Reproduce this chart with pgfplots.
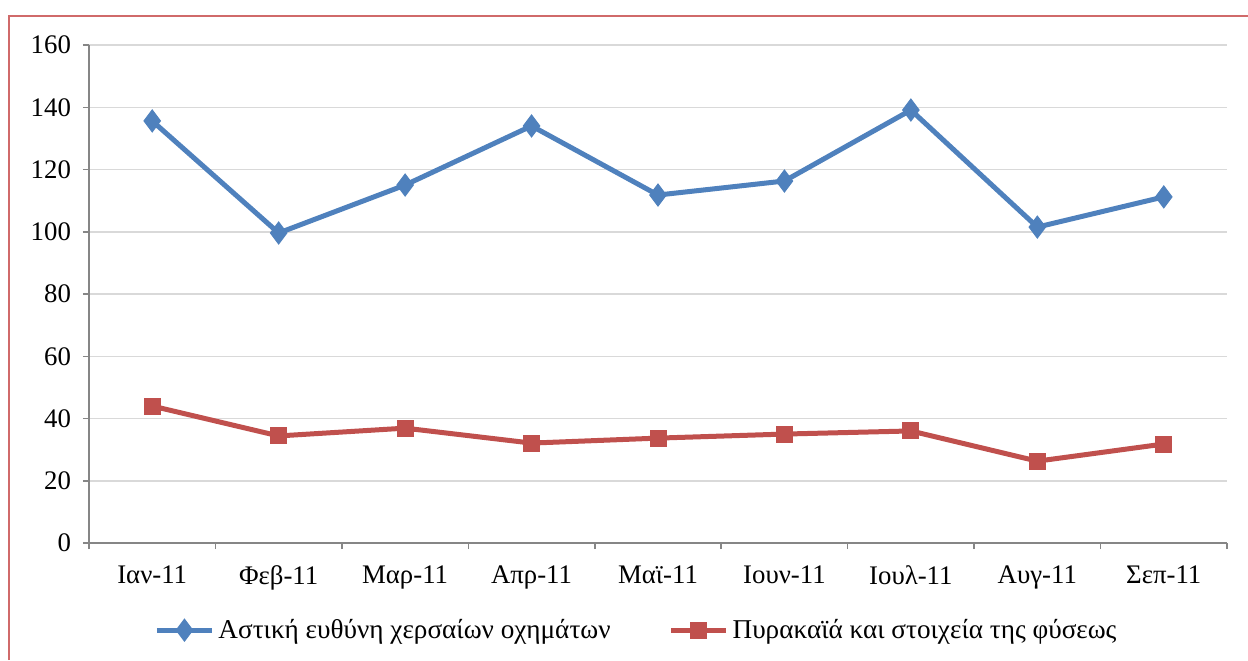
\documentclass[border=0pt]{standalone}
\usepackage{fontspec}
\setmainfont{Liberation Serif}
\usepackage{pgfplots}
\pgfplotsset{compat=1.18}
\definecolor{sblue}{HTML}{4F81BD}
\definecolor{sred}{HTML}{C0504D}
\definecolor{framecol}{HTML}{D06A6A}
\definecolor{gridcol}{HTML}{D9D9D9}
\definecolor{axcol}{HTML}{868686}
\begin{document}
\begin{tikzpicture}
\useasboundingbox (0,0) rectangle (624pt,330pt);
\draw[color=framecol, line width=0.7pt] (4.5pt,0) -- (4.5pt,322pt) -- (624pt,322pt);
\begin{axis}[
  at={(44.5pt,58.5pt)}, anchor=south west,
  scale only axis, width=569pt, height=249pt,
  xmin=-0.5, xmax=8.5, ymin=0, ymax=160,
  ytick={0,20,...,160},
  axis x line*=bottom, axis y line*=left,
  axis line style={color=axcol, line width=0.75pt, -},
  ymajorgrids, grid style={color=gridcol, line width=0.75pt},
  xtick={-0.5,0.5,...,8.5}, xticklabels={},
  extra x ticks={0,1,2,3,4,5,6,7,8},
  extra x tick labels={Ιαν-11,Φεβ-11,Μαρ-11,Απρ-11,Μαϊ-11,Ιουν-11,Ιουλ-11,Αυγ-11,Σεπ-11},
  extra x tick style={major tick length=0pt, grid=none},
  tick style={color=axcol, line width=0.75pt},
  major tick length=3pt, tick align=outside,
  every tick label/.append style={font=\fontsize{13.4}{15}\selectfont},
  /pgf/number format/assume math mode=true,
  yticklabel style={xshift=-2.5pt},
  xticklabel style={yshift=-8pt},
  clip=false,
  legend columns=2,
  legend style={draw=none, fill=none, at={(0.482,-0.175)}, anchor=center,
    font=\fontsize{13.6}{15}\selectfont,
    column sep=0pt,
    /tikz/every even column/.append style={column sep=27pt},
    inner sep=0pt},
  legend image code/.code={\draw[#1, mark repeat=2, mark phase=2] plot coordinates {(0pt,0pt) (13.75pt,0pt) (27.5pt,0pt)};},
]
\addplot[color=sblue, line width=2.5pt, mark=diamond*, mark size=5.5pt, mark options={solid, line width=0.5pt}]
  coordinates {(0,135.6) (1,99.6) (2,115.0) (3,134.0) (4,111.8) (5,116.3) (6,139.1) (7,101.5) (8,111.2)};
\addlegendentry{Αστική ευθύνη χερσαίων οχημάτων}
\addplot[color=sred, line width=2.5pt, mark=square*, mark size=4pt, mark options={solid, line width=0.5pt}]
  coordinates {(0,44.0) (1,34.4) (2,36.9) (3,32.1) (4,33.7) (5,35.0) (6,36.0) (7,26.3) (8,31.8)};
\addlegendentry{Πυρακαϊά και στοιχεία της φύσεως}
\end{axis}
\end{tikzpicture}
\end{document}
